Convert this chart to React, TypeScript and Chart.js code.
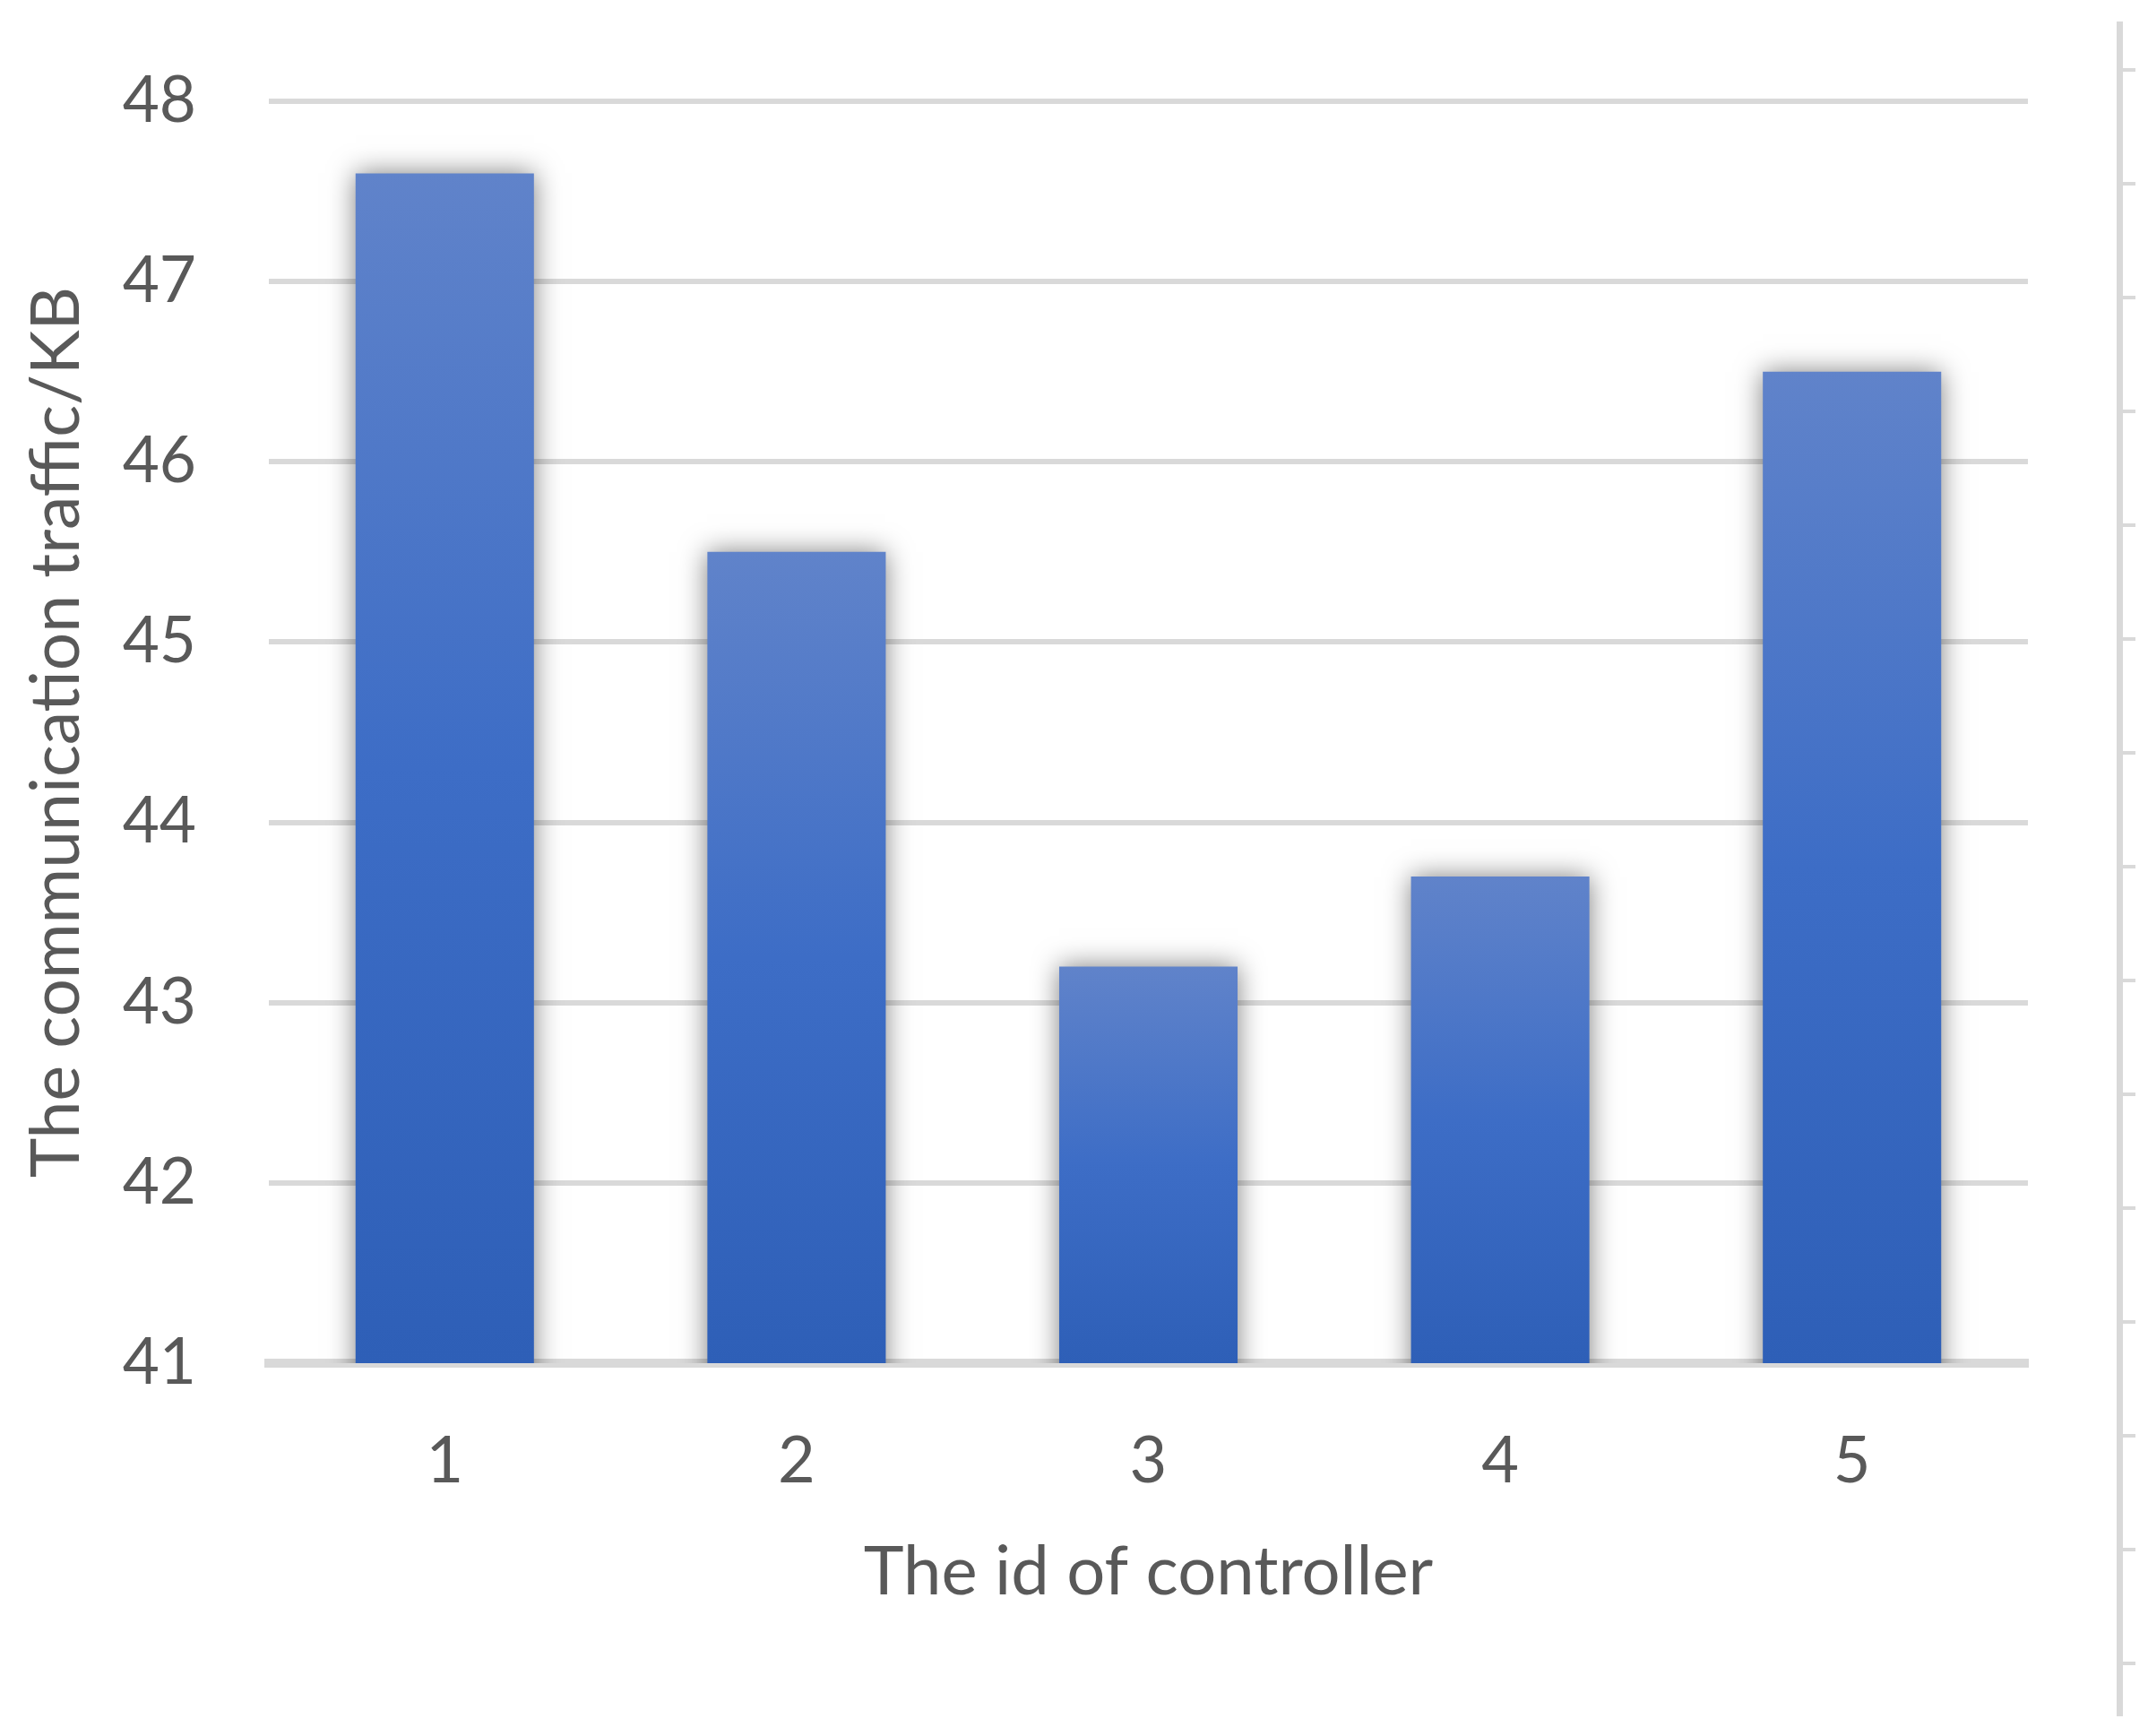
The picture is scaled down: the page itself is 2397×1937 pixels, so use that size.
import React, { useEffect, useRef } from "react";
import { Chart, registerables } from "chart.js";

Chart.register(...registerables);

const categories = ["1", "2", "3", "4", "5"];
const trafficValues = [47.6, 45.5, 43.2, 43.7, 46.5];
const yMin = 41;
const yMax = 48;
const yStep = 1;
const xTitle = "The id of controller";
const yTitle = "The communication traffic/KB";

const W = 2397;
const H = 1937;
const FONT = "Lato, 'Open Sans', 'Liberation Sans', sans-serif";
const TEXT = "#595959";
const GRID = "#d9d9d9";

const shadowPlugin = {
  id: "barShadow",
  beforeDatasetsDraw(chart: any) {
    const ctx = chart.ctx;
    ctx.save();
    ctx.shadowColor = "rgba(0,0,0,0.5)";
    ctx.shadowBlur = 28;
    ctx.shadowOffsetX = 0;
    ctx.shadowOffsetY = 0;
  },
  afterDatasetsDraw(chart: any) {
    chart.ctx.restore();
  },
};

const sideRulePlugin = {
  id: "sideRule",
  afterDraw(chart: any) {
    const ctx = chart.ctx;
    ctx.save();
    ctx.fillStyle = GRID;
    ctx.fillRect(2362, 24, 7, 1891);
    for (let y = 78; y < 1915; y += 127) {
      ctx.fillRect(2369, y - 2, 14, 4);
    }
    ctx.restore();
  },
};

export default function App() {
  const ref = useRef<HTMLCanvasElement | null>(null);

  useEffect(() => {
    document.body.style.margin = "0";
    const canvas = ref.current!;
    const chart = new Chart(canvas, {
      type: "bar",
      data: {
        labels: categories,
        datasets: [
          {
            data: trafficValues,
            backgroundColor: (c: any) => {
              const chartObj = c.chart;
              const ys = chartObj.scales?.y;
              if (!ys || c.raw === undefined) return "#4472c4";
              const top = ys.getPixelForValue(c.raw);
              const bottom = ys.getPixelForValue(yMin);
              if (!isFinite(top) || !isFinite(bottom) || bottom - top < 1) return "#4472c4";
              const g = chartObj.ctx.createLinearGradient(0, top, 0, bottom);
              g.addColorStop(0, "#6083ca");
              g.addColorStop(0.5, "#3d6dc6");
              g.addColorStop(1, "#2e5fb7");
              return g;
            },
            borderWidth: 0,
            barPercentage: 0.507,
            categoryPercentage: 1,
          },
        ],
      },
      options: {
        responsive: false,
        animation: false,
        devicePixelRatio: 1,
        layout: { padding: { top: 113, right: 134, left: 0, bottom: 0 } },
        plugins: {
          legend: { display: false },
          tooltip: { enabled: false },
        },
        scales: {
          x: {
            grid: { display: false, drawTicks: false },
            border: { display: true, color: GRID, width: 10 },
            ticks: {
              color: TEXT,
              font: { family: FONT, size: 72 },
              padding: 67,
            },
            title: {
              display: true,
              text: xTitle,
              color: TEXT,
              font: { family: FONT, size: 76 },
              padding: { top: 0, bottom: 137 },
            },
            afterFit: (s: any) => {
              s.height = 416;
            },
          },
          y: {
            min: yMin,
            max: yMax,
            ticks: {
              stepSize: yStep,
              color: TEXT,
              font: { family: FONT, size: 71 },
              padding: 81,
            },
            grid: { color: GRID, lineWidth: 6, drawTicks: false },
            border: { display: false },
            title: {
              display: true,
              text: yTitle,
              color: TEXT,
              font: { family: FONT, size: 75 },
              padding: { top: 19, bottom: 0 },
            },
            afterFit: (s: any) => {
              s.width = 300;
              s.paddingTop = 0;
              s.paddingBottom = 0;
            },
          },
        },
      },
      plugins: [shadowPlugin, sideRulePlugin],
    });
    return () => chart.destroy();
  }, []);

  return (
    <div style={{ width: W, height: H, background: "#ffffff" }}>
      <canvas ref={ref} width={W} height={H} style={{ display: "block", width: W, height: H }} />
    </div>
  );
}
